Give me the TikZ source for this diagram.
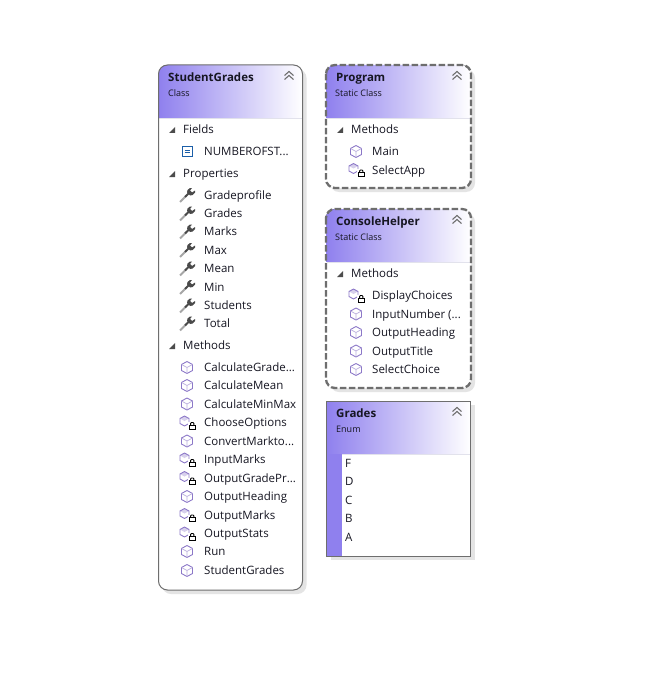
\documentclass[tikz,border=0pt]{standalone}
\usepackage{fontspec}
\setmainfont{Open Sans}
\usetikzlibrary{calc}
\definecolor{hdr}{HTML}{8F80EE}
\definecolor{edge}{HTML}{6E6E6E}
\definecolor{shadowc}{HTML}{E4E4E4}
\definecolor{txt}{HTML}{161622}
\definecolor{cubec}{HTML}{8C78C8}
\definecolor{wrench}{HTML}{4A4A4A}
\definecolor{sepc}{HTML}{E2E2EC}
\definecolor{fieldc}{HTML}{1C5FA8}
\newcommand{\trunc}{...}
\tikzset{
  x=1pt,y=-1pt,
  title/.style={anchor=base west,yshift=-4.2pt,inner sep=0pt,font=\fontsize{11.5}{12}\selectfont\bfseries,text=txt},
  subtitle/.style={anchor=base west,yshift=-3.2pt,inner sep=0pt,font=\fontsize{9}{9}\selectfont,text=txt},
  section/.style={anchor=base west,yshift=-4.3pt,inner sep=0pt,font=\fontsize{11.5}{12}\selectfont,text=txt},
  item/.style={anchor=base west,yshift=-4.3pt,inner sep=0pt,font=\fontsize{11.5}{12}\selectfont,text=txt},
  shadowbox/.style={fill=shadowc,draw=none},
  framebox/.style={draw=edge,line width=1pt},
  dashframe/.style={draw=edge,line width=2.3pt,dash pattern=on 6.5pt off 2.5pt},
  hdrfill/.style={left color=hdr,right color=white,draw=none},
}
% chevrons
\newcommand{\chev}[2]{%
  \draw[edge,line width=1.1pt] (#1-4.5,#2-.5)--(#1,#2-4.5)--(#1+4.5,#2-.5);
  \draw[edge,line width=1.1pt] (#1-4.5,#2+3.5)--(#1,#2-.5)--(#1+4.5,#2+3.5);}
% collapse triangle
\newcommand{\tri}[2]{\fill[black!70] (#1+3,#2-3)--(#1+3,#2+3)--(#1-3,#2+3)--cycle;}
% method cube
\newcommand{\cube}[2]{%
  \draw[cubec,line width=.9pt,line join=round] (#1,#2-6)--(#1+5.5,#2-3)--(#1+5.5,#2+3)--(#1,#2+6)--(#1-5.5,#2+3)--(#1-5.5,#2-3)--cycle;
  \draw[cubec!60,line width=.7pt] (#1-5.5,#2-3)--(#1,#2)--(#1+5.5,#2-3) (#1,#2)--(#1,#2+6);}
% private method cube with padlock
\newcommand{\pcube}[2]{%
  \fill[cubec!35] (#1-7,#2-4)--(#1-2.5,#2-6.5)--(#1+2,#2-4)--(#1-2.5,#2-1.5)--cycle;
  \draw[cubec,line width=.9pt,line join=round] (#1-2.5,#2-6.5)--(#1+2,#2-4)--(#1+2,#2+1)--(#1-2.5,#2+3.5)--(#1-7,#2+1)--(#1-7,#2-4)--cycle;
  \fill[white] (#1+1,#2-.5) rectangle (#1+9,#2+7.5);
  \draw[black,line width=1pt] (#1+2.5,#2+2.8) rectangle (#1+8,#2+6.8);
  \draw[black,line width=.9pt] (#1+3.6,#2+2.8) -- (#1+3.6,#2+1) -- (#1+4.6,#2) -- (#1+5.9,#2) -- (#1+6.9,#2+1) -- (#1+6.9,#2+2.8);}
% property wrench
\newcommand{\wrenchicon}[2]{%
  \draw[black!35,line width=1.8pt] (#1-7,#2+7)--(#1-.5,#2+.5);
  \draw[wrench,line width=2pt] (#1-2,#2+2)--(#1+2,#2-2);
  \fill[wrench] (#1+0,#2-2.5) -- (#1+.5,#2-5) -- (#1+3,#2-7) -- (#1+5,#2-7) -- (#1+3,#2-4.5) -- (#1+5,#2-2.5) -- (#1+8,#2-4.5) -- (#1+8,#2-2.5) -- (#1+5.5,#2+0) -- (#1+3,#2+.5) -- cycle;}
% field icon
\newcommand{\fieldicon}[2]{%
  \draw[fieldc,line width=1pt] (#1-5,#2-4.5) rectangle (#1+5,#2+5);
  \draw[fieldc,line width=1pt] (#1-2.5,#2-1)--(#1+2.5,#2-1) (#1-2.5,#2+1.5)--(#1+2.5,#2+1.5);}
\begin{document}
\begin{tikzpicture}
\useasboundingbox (0,0) rectangle (645,679);
\fill[white] (0,0) rectangle (645,679);

% ---------- StudentGrades
\fill[shadowbox,rounded corners=9pt] (162,69) rectangle (306.5,594);
\fill[white,rounded corners=9pt] (158.5,65) rectangle (302.5,590);
\begin{scope}
  \clip[rounded corners=9pt] (158.5,65) rectangle (302.5,200);
  \fill[hdrfill] (158.5,65) rectangle (302.5,117.5);
\end{scope}
\draw[sepc] (159,118)--(302,118);
\draw[framebox,rounded corners=9pt] (158.5,65) rectangle (302.5,590);
\node[title] (sgt) at (168,77.5) {StudentGrades};
\node[subtitle] (sgs) at (168,93.5) {Class};
\chev{289}{76}
\tri{172}{130}
\node[section] (sgf) at (183,129.5) {Fields};
\fieldicon{187}{151.5}
\node[item] (sg1) at (204,151.5) {NUMBEROFST\trunc};
\tri{172}{174}
\node[section] (sgp) at (183,173.5) {Properties};
\foreach \t/\y in {Gradeprofile/195,Grades/213.5,Marks/231.5,Max/250,Mean/268.5,Min/287,Students/305.5,Total/323.5}{
  \wrenchicon{187}{\y}
  \node[item] at (204,\y) {\t};
}
\tri{172}{346}
\node[section] (sgm) at (183,345.5) {Methods};
\foreach \t/\y in {CalculateGrade\trunc/367.5,CalculateMean/385.5,CalculateMinMax/404,ConvertMarkto\trunc/441,OutputHeading/496.5,Run/551.5,StudentGrades/570.5}{
  \cube{187}{\y}
  \node[item] at (204,\y) {\t};
}
\foreach \t/\y in {ChooseOptions/422.5,InputMarks/459.5,OutputGradePr\trunc/478,OutputMarks/515,OutputStats/533.5}{
  \pcube{187}{\y}
  \node[item] at (204,\y) {\t};
}

% ---------- Program
\fill[shadowbox,rounded corners=9pt] (330,69) rectangle (475,192);
\fill[white,rounded corners=9pt] (326,65) rectangle (471,188);
\begin{scope}
  \clip[rounded corners=9pt] (326,65) rectangle (471,180);
  \fill[hdrfill] (326,65) rectangle (471,117.5);
\end{scope}
\draw[sepc] (327,118)--(470,118);
\draw[dashframe,rounded corners=9pt] (326,65) rectangle (471,188);
\node[title] (pt) at (336,77.5) {Program};
\node[subtitle] (ps) at (335,93.5) {Static Class};
\chev{457}{76}
\tri{340}{130}
\node[section] (pm) at (351,129.5) {Methods};
\cube{356}{151.5}
\node[item] (p1) at (372,151.5) {Main};
\pcube{356}{170}
\node[item] (p2) at (372,170) {SelectApp};

% ---------- ConsoleHelper
\fill[shadowbox,rounded corners=9pt] (330,213) rectangle (475,392);
\fill[white,rounded corners=9pt] (326,209) rectangle (471,388);
\begin{scope}
  \clip[rounded corners=9pt] (326,209) rectangle (471,320);
  \fill[hdrfill] (326,209) rectangle (471,261.5);
\end{scope}
\draw[sepc] (327,262)--(470,262);
\draw[dashframe,rounded corners=9pt] (326,209) rectangle (471,388);
\node[title] (ct) at (336,221.5) {ConsoleHelper};
\node[subtitle] (cs) at (335,237.5) {Static Class};
\chev{457}{220}
\tri{340}{274}
\node[section] (cm) at (351,273.5) {Methods};
\pcube{356}{295.5}
\node[item] (c1) at (372,295.5) {DisplayChoices};
\foreach \t/\y in {InputNumber\ (\trunc/314,OutputHeading/332.5,OutputTitle/351,SelectChoice/369.5}{
  \cube{356}{\y}
  \node[item] at (372,\y) {\t};
}

% ---------- Grades
\fill[shadowbox] (331,405) rectangle (474.5,560);
\fill[white] (326.5,401) rectangle (470.5,556);
\fill[hdrfill] (326.5,401) rectangle (470.5,453.5);
\fill[hdr] (326.5,453.5) rectangle (342,556);
\draw[sepc] (342,454)--(470,454);
\draw[framebox] (326.5,401) rectangle (470.5,556);
\node[title] (gt) at (336,413.5) {Grades};
\node[subtitle] (gs) at (336,429.5) {Enum};
\chev{457}{412}
\foreach \t/\y in {F/463.5,D/481.5,C/500,B/518.5,A/537}{
  \node[item] at (345,\y) {\t};
}
\end{tikzpicture}
\end{document}
